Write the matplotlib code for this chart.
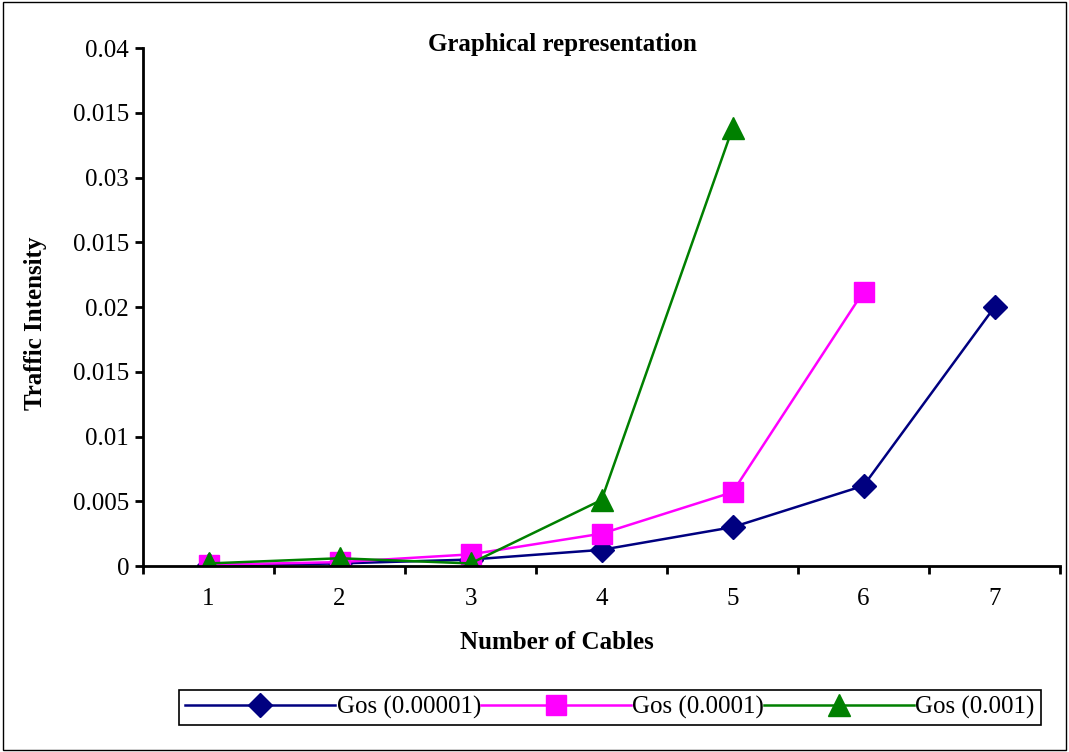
import matplotlib
matplotlib.use("Agg")
import matplotlib.pyplot as plt
from matplotlib.patches import Rectangle

plt.rcParams['font.family'] = ['Liberation Serif', 'DejaVu Serif']

# Data
cables = [1, 2, 3, 4, 5, 6, 7]
gos_00001 = [0.00005, 0.0002, 0.0005, 0.00125, 0.0030, 0.0062, 0.0200]
gos_0001 = [0.0001, 0.0003, 0.0009, 0.0025, 0.0057, 0.0212]
gos_001 = [0.0002, 0.0006, 0.0002, 0.0051, 0.0338]
series_labels = ['Gos (0.00001)', 'Gos (0.0001)', 'Gos (0.001)']
ytick_vals = [0, 0.005, 0.01, 0.015, 0.02, 0.025, 0.03, 0.035, 0.04]
ytick_labels = ['0', '0.005', '0.01', '0.015', '0.02', '0.015', '0.03', '0.015', '0.04']

fig = plt.figure(figsize=(10.69, 7.52), dpi=100)
ax = fig.add_axes([0.1338, 0.2473, 0.8578, 0.6888])

ax.plot(cables, gos_00001, color='#000080', lw=1.8, marker='D',
        markersize=12, label=series_labels[0])
ax.plot(cables[:6], gos_0001, color='#FF00FF', lw=1.8, marker='s',
        markersize=14, label=series_labels[1])
ax.plot(cables[:5], gos_001, color='#008000', lw=1.8, marker='^',
        markersize=16, label=series_labels[2])

ax.set_xlim(0.5, 7.5)
ax.set_ylim(0, 0.04)
ax.set_yticks(ytick_vals)
ax.set_yticklabels(ytick_labels, fontsize=18)

# category labels centred, tick marks between categories
ax.set_xticks(cables)
ax.set_xticklabels([str(c) for c in cables], fontsize=18)
ax.tick_params(axis='x', which='major', length=0, pad=16)
ax.set_xticks([c + 0.5 for c in [0] + cables], minor=True)
ax.tick_params(axis='x', which='minor', length=6, width=2, direction='out')
ax.tick_params(axis='y', length=6, width=2, direction='out', pad=4)

for side in ['top', 'right']:
    ax.spines[side].set_visible(False)
for side in ['left', 'bottom']:
    ax.spines[side].set_linewidth(2)

fig.text(0.526, 0.941, 'Graphical representation', fontsize=18,
         fontweight='bold', ha='center', va='center')
fig.text(0.033, 0.57, 'Traffic Intensity', fontsize=18, fontweight='bold',
         rotation=90, ha='center', va='center')
fig.text(0.521, 0.146, 'Number of Cables', fontsize=18, fontweight='bold',
         ha='center', va='center')

leg = fig.legend(loc='center', ncol=3, bbox_to_anchor=(0.5706, 0.0592),
                 fontsize=18, handlelength=6.0, handletextpad=0.05,
                 columnspacing=0.0, borderpad=0.25, borderaxespad=0,
                 fancybox=False, edgecolor='black', framealpha=1)
leg.get_frame().set_linewidth(1.2)

fig.patches.append(Rectangle((0.003, 0.003), 0.994, 0.994, transform=fig.transFigure,
                             fill=False, edgecolor='black', linewidth=1))

fig.savefig('out.png', dpi=100)
